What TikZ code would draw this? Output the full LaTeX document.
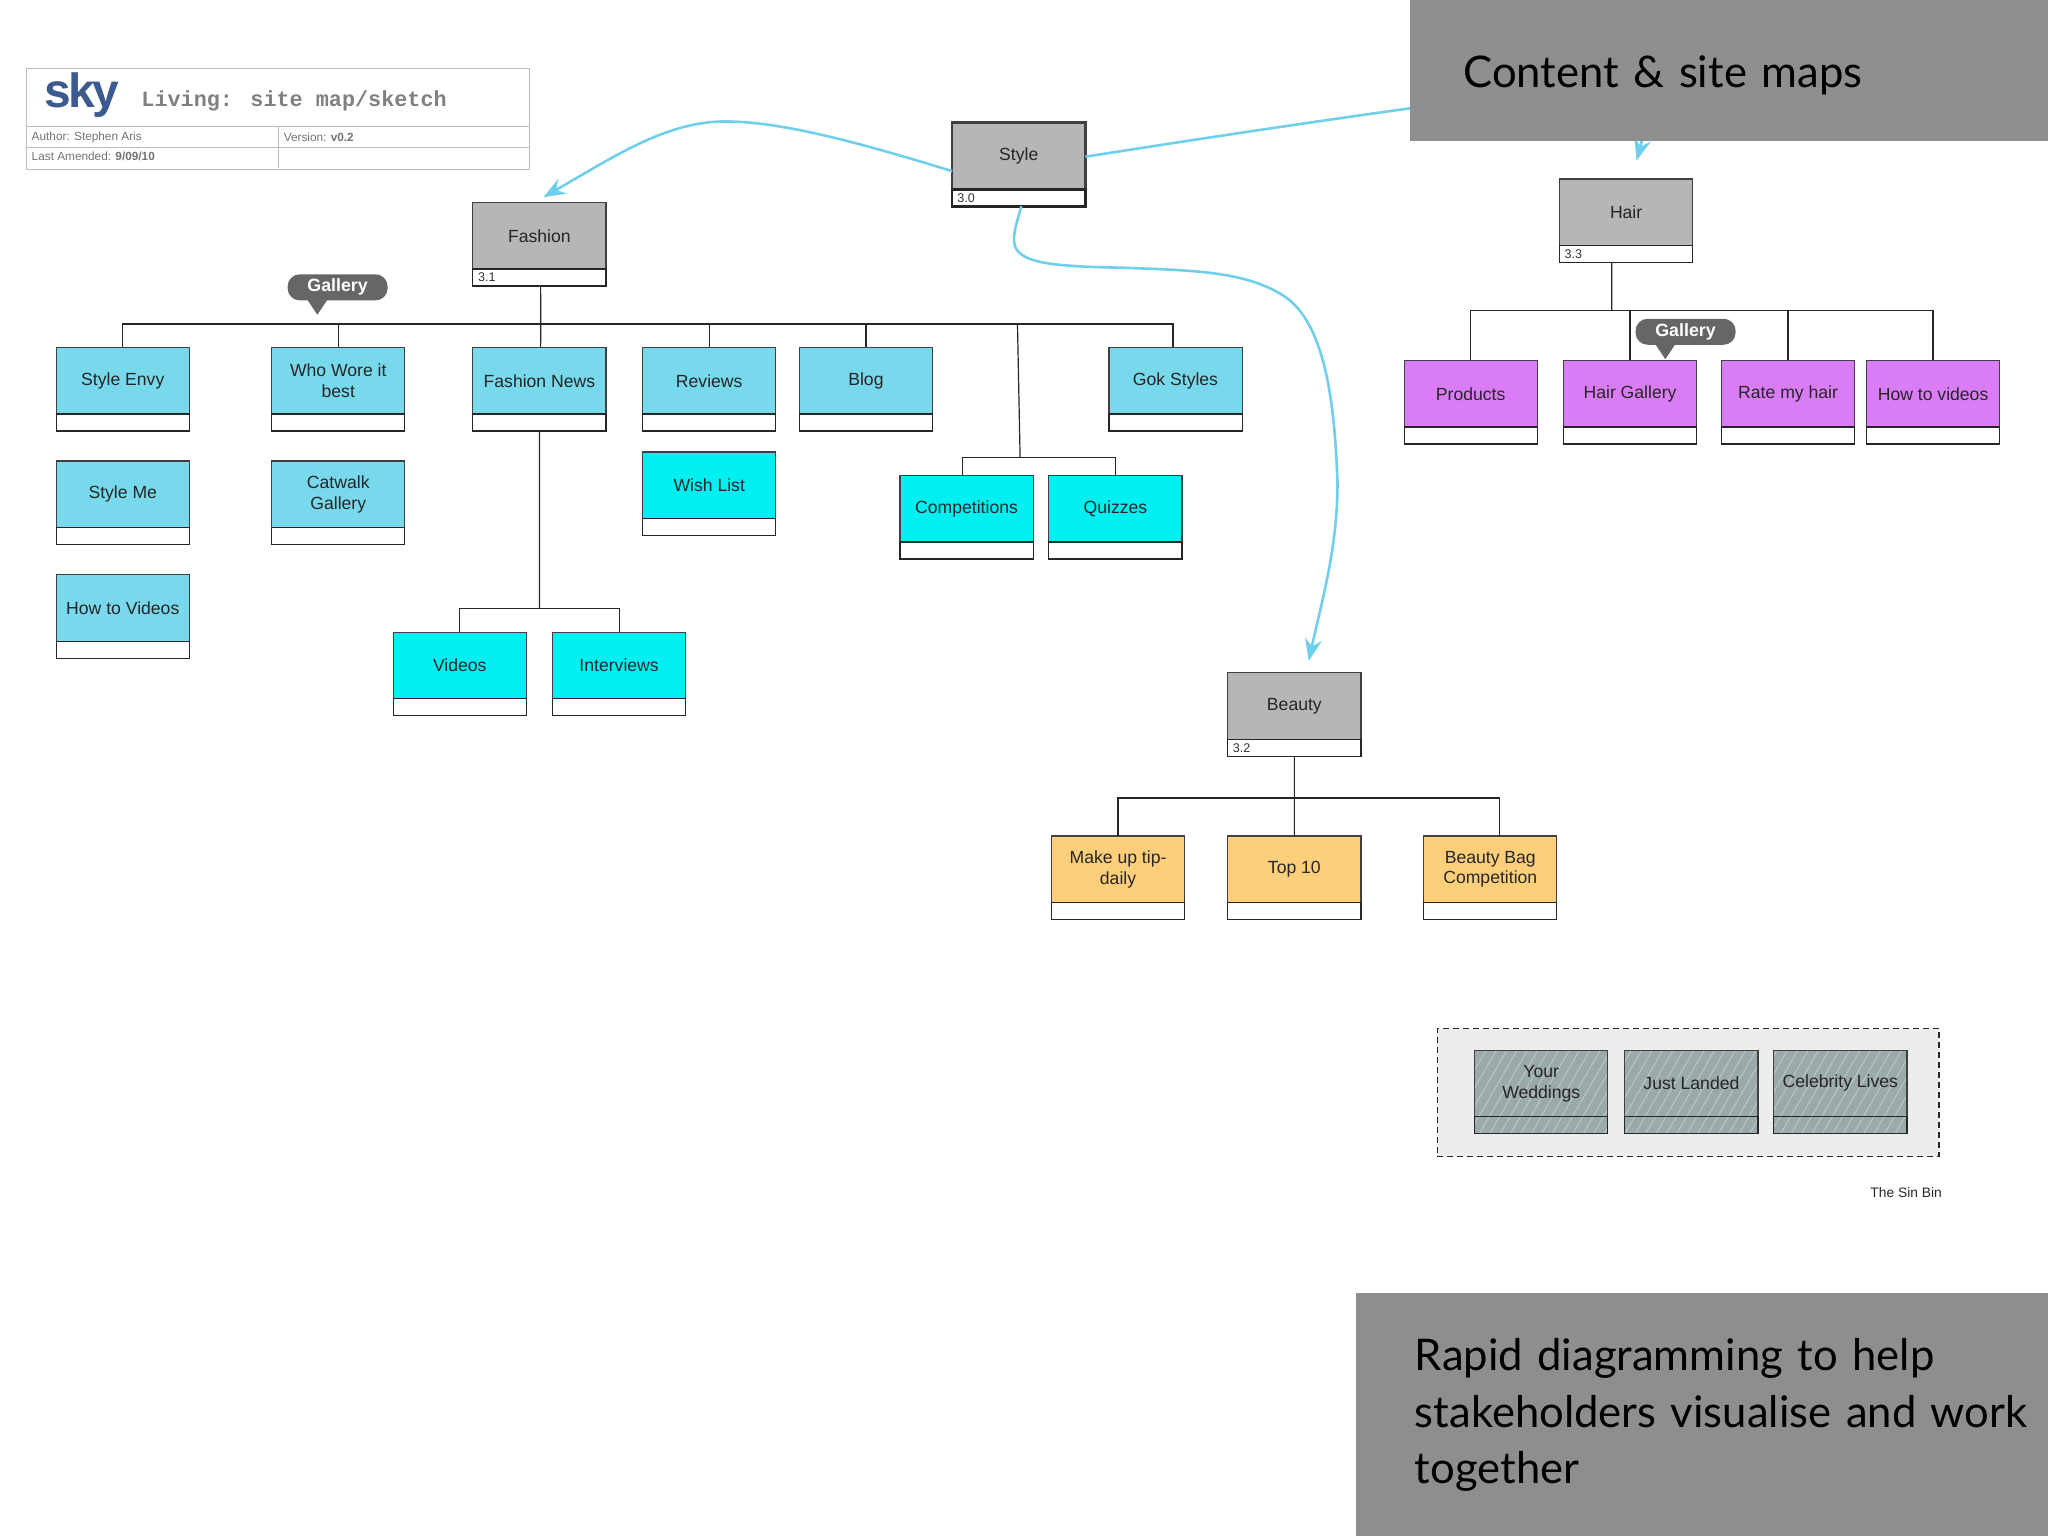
\documentclass[tikz,border=0pt]{standalone}
\usepackage{fontspec}
\setmainfont{Liberation Sans}
\newfontfamily\panelfont{Lato}
\newfontfamily\titlefont{Liberation Mono}
\newfontfamily\logofont[LetterSpace=-6]{Liberation Sans}
\usetikzlibrary{arrows.meta}
\usetikzlibrary{patterns.meta}

\definecolor{pagegrey}{HTML}{B6B5B7}
\definecolor{lightcyan}{HTML}{78D8EC}
\definecolor{brightcyan}{HTML}{00F0F2}
\definecolor{hairpurple}{HTML}{DA7CF6}
\definecolor{beautyorange}{HTML}{FECF7A}
\definecolor{hatchgrey}{HTML}{9AA9A9}
\definecolor{linkblue}{HTML}{70CFEA}
\definecolor{panelgrey}{HTML}{8E8D8F}
\definecolor{sheetgrey}{HTML}{BDBDBD}
\definecolor{logoblue}{HTML}{3C5A8F}

\tikzset{
	pagetop/.style={draw=black!75, line width=0.6pt, anchor=north west, minimum width=66.6pt, minimum height=33.3pt,
		inner sep=0pt, outer sep=0pt, align=center, font=\fontsize{8.8}{10.4}\selectfont, text=black!85},
	pagestrip/.style={draw=black!85, line width=0.6pt, fill=white, anchor=north west, minimum width=66.6pt, minimum height=8.5pt,
		inner ysep=0pt, inner xsep=2.6pt, outer sep=0pt, font=\fontsize{6.3}{7}\selectfont, text=black!80, align=left, text width=61.4pt},
	hatched/.style={preaction={fill=hatchgrey}, pattern={Lines[angle=60,distance=4.5pt,line width=0.35pt]}, pattern color=white!45!hatchgrey},
	tree/.style={draw=black!85, line width=0.6pt},
	link/.style={draw=linkblue, line width=1.3pt, -{Stealth[length=11pt,width=8.5pt]}},
	gallerytag/.style={fill=black!60, text=white, rounded corners=6pt, minimum width=50pt, minimum height=13pt, inner sep=0pt,
		font=\fontsize{8.9}{10}\bfseries\selectfont},
	panel/.style={fill=panelgrey, anchor=north west, inner sep=0pt, align=left, text=black, font=\panelfont\fontsize{21.8}{28.4}\selectfont},
	sheettext/.style={anchor=west, inner sep=0pt, text=black!55, font=\fontsize{5.9}{7}\selectfont},
}

\newcommand{\pagebox}[5][pagegrey]{
	\node[pagetop, fill=#1] (#2) at (#3) {#4};
	\node[pagestrip] (#2n) at (#2.south west) {#5};
}

\begin{document}
\begin{tikzpicture}[x=0.65306pt, y=-0.65306pt]
	\useasboundingbox (0,0) rectangle (1568,1176);

	% title sheet
	\node[draw=sheetgrey, line width=0.6pt, anchor=north west, minimum width=251.4pt, minimum height=50.3pt, inner sep=0pt] (sheet) at (20,52) {};
	\draw[draw=sheetgrey, line width=0.6pt] (20,97) -- (405,97);
	\draw[draw=sheetgrey, line width=0.6pt] (20,113) -- (405,113);
	\draw[draw=sheetgrey, line width=0.6pt] (213,97) -- (213,129);
	\node[anchor=west, inner sep=0pt, text=logoblue, font=\logofont\bfseries\fontsize{24}{26}\selectfont] (logo) at (34,73) {sky};
	\node[anchor=west, inner sep=0pt, text=black!50, font=\titlefont\bfseries\fontsize{10.9}{12}\selectfont] (sheettitle) at (108,77) {Living: site map/sketch};
	\node[sheettext] (author) at (24,105) {Author: Stephen Aris};
	\node[sheettext] (version) at (217,105) {Version: \textbf{v0.2}};
	\node[sheettext] (amended) at (24,120) {Last Amended: \textbf{9/09/10}};

	% top level
	\node[pagetop, fill=pagegrey, line width=1.3pt] (style) at (729,94) {Style};
	\node[pagestrip, line width=1.3pt] (stylen) at (style.south west) {3.0};
	\pagebox{fashion}{362,155}{Fashion}{3.1}
	\pagebox{hair}{1194,137}{Hair}{3.3}
	\pagebox{beauty}{940,515}{Beauty}{3.2}

	% fashion
	\pagebox[lightcyan]{styleenvy}{43,266}{Style Envy}{}
	\pagebox[lightcyan]{whowore}{208,266}{Who Wore it\\best}{}
	\pagebox[lightcyan]{fashionnews}{362,266}{Fashion News}{}
	\pagebox[lightcyan]{reviews}{492,266}{Reviews}{}
	\pagebox[lightcyan]{blog}{612,266}{Blog}{}
	\pagebox[lightcyan]{gokstyles}{849,266}{Gok Styles}{}
	\pagebox[lightcyan]{styleme}{43,353}{Style Me}{}
	\pagebox[lightcyan]{catwalk}{208,353}{Catwalk\\Gallery}{}
	\pagebox[lightcyan]{howtovideos}{43,440}{How to Videos}{}
	\pagebox[brightcyan]{wishlist}{492,346}{Wish List}{}
	\pagebox[brightcyan]{competitions}{689,364}{Competitions}{}
	\pagebox[brightcyan]{quizzes}{803,364}{Quizzes}{}
	\pagebox[brightcyan]{videos}{301,484}{Videos}{}
	\pagebox[brightcyan]{interviews}{423,484}{Interviews}{}

	% hair
	\pagebox[hairpurple]{products}{1075,276}{Products}{}
	\pagebox[hairpurple]{hairgallery}{1197,276}{Hair Gallery}{}
	\pagebox[hairpurple]{ratemyhair}{1318,276}{Rate my hair}{}
	\pagebox[hairpurple]{howtohair}{1429,276}{How to videos}{}

	% beauty
	\pagebox[beautyorange]{makeup}{805,640}{Make up tip-\\daily}{}
	\pagebox[beautyorange]{topten}{940,640}{Top 10}{}
	\pagebox[beautyorange]{beautybag}{1090,640}{Beauty Bag\\Competition}{}

	% fashion tree
	\coordinate (fashionbus) at (414,248);
	\coordinate (compdrop) at (779,248);
	\coordinate (compbus) at (781,350);
	\coordinate (newsbus) at (413,466);
	\draw[tree] ([xshift=0.6pt]fashionn.south) -- (fashionbus);
	\draw[tree] (fashionbus) -| (styleenvy.north);
	\draw[tree] (fashionbus) -| (whowore.north);
	\draw[tree] (fashionbus) -- ([xshift=0.6pt]fashionnews.north);
	\draw[tree] (fashionbus) -| (reviews.north);
	\draw[tree] (fashionbus) -| (blog.north);
	\draw[tree] (fashionbus) -| ([xshift=-1.3pt]gokstyles.north);
	\draw[tree] (compdrop) -- (compbus);
	\draw[tree] (compbus) -| ([xshift=-2pt]competitions.north);
	\draw[tree] (compbus) -| (quizzes.north);
	\draw[tree] (fashionnewsn.south) -- (newsbus);
	\draw[tree] (newsbus) -| (videos.north);
	\draw[tree] (newsbus) -| (interviews.north);

	% hair tree
	\coordinate (hairbus) at (1234,238);
	\draw[tree] ([xshift=-7.2pt]hairn.south) -- (hairbus);
	\draw[tree] (hairbus) -| (products.north);
	\draw[tree] (hairbus) -| (hairgallery.north);
	\draw[tree] (hairbus) -| (ratemyhair.north);
	\draw[tree] (hairbus) -| (howtohair.north);

	% beauty tree
	\coordinate (beautybus) at (991,611);
	\draw[tree] (beautyn.south) -- (beautybus);
	\draw[tree] (beautybus) -| (makeup.north);
	\draw[tree] (beautybus) -- (topten.north);
	\draw[tree] (beautybus) -| ([xshift=4.6pt]beautybag.north);

	% gallery tags
	\node[gallerytag] (galleryone) at (258.5,220) {Gallery};
	\fill[black!60] (235,229) -- (251,229) -- (243,241) -- cycle;
	\node[gallerytag] (gallerytwo) at (1290.5,254) {Gallery};
	\fill[black!60] (1267,263) -- (1283,263) -- (1275,275) -- cycle;

	% links from style
	\coordinate (fashiontip) at (416,151);
	\coordinate (hairtip) at (1253,123);
	\coordinate (beautytip) at (1002,506);
	\draw[link] (style.west |- 0,131) .. controls (660,110) and (600,93) .. (555,93) .. controls (510,93) and (470,120) .. (fashiontip);
	\draw[link] (style.east |- 0,120) .. controls (920,106) and (1000,94) .. (1079,83) .. controls (1180,68) and (1268,70) .. (hairtip);
	\draw[link] (782,158) .. controls (778,172) and (775,180) .. (777,188) .. controls (781,203) and (815,204) .. (860,205)
		.. controls (910,207) and (955,207) .. (985,228) .. controls (1015,250) and (1022,310) .. (1024,370) .. controls (1024,420) and (1012,460) .. (beautytip);

	% the sin bin
	\node[draw=black!85, densely dashed, line width=0.6pt, fill=black!7, anchor=north west, minimum width=250.8pt, minimum height=64pt, inner sep=0pt] (sinbin) at (1100,787) {};
	\node[pagetop, hatched] (weddings) at (1129,804) {Your\\Weddings};
	\node[pagestrip, hatched] (weddingsn) at (weddings.south west) {};
	\node[pagetop, hatched] (justlanded) at (1244,804) {Just Landed};
	\node[pagestrip, hatched] (justlandedn) at (justlanded.south west) {};
	\node[pagetop, hatched] (celebrity) at (1358,804) {Celebrity Lives};
	\node[pagestrip, hatched] (celebrityn) at (celebrity.south west) {};
	\node[anchor=east, inner sep=0pt, text=black!85, font=\fontsize{6.9}{8}\selectfont] (sinbinlabel) at (1487,913) {The Sin Bin};

	% slide panels
	\node[panel, minimum width=319.4pt, minimum height=70.5pt, inner xsep=26.8pt, text width=292.6pt] (toppanel) at (1079,0) {\raisebox{-8.5pt}[0pt][0pt]{Content \& site maps}};
	\node[panel, minimum width=346.1pt, minimum height=121.5pt, inner xsep=29.4pt, text width=316.7pt] (bottompanel) at (1038,990) {Rapid diagramming to help\\stakeholders visualise and work\\together};
\end{tikzpicture}
\end{document}
